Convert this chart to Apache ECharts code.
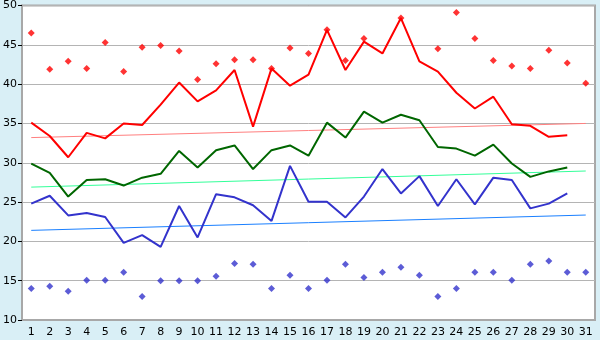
<!DOCTYPE html>
<html>
<head>
<meta charset="utf-8">
<script src="https://cdn.jsdelivr.net/npm/echarts@6/dist/echarts.min.js"></script>
<style>
  html, body { margin: 0; padding: 0; background: #d9eff6; }
  #chart { width: 600px; height: 340px; }
</style>
</head>
<body>
<div id="chart"></div>
<script>
const days = Array.from({ length: 31 }, (_, i) => String(i + 1));

// daily series
const redLine = [35.1, 33.4, 30.7, 33.8, 33.1, 35.0, 34.8, 37.4, 40.2, 37.8,
  39.2, 41.8, 34.6, 42.0, 39.8, 41.2, 46.9, 41.8, 45.4, 43.9,
  48.4, 42.9, 41.6, 38.9, 36.9, 38.4, 34.9, 34.7, 33.3, 33.5, null];
const redMax = [46.5, 41.9, 42.9, 42.0, 45.3, 41.6, 44.7, 44.9, 44.2, 40.6,
  42.6, 43.1, 43.1, 42.0, 44.6, 43.9, 46.9, 43.0, 45.8, null,
  48.4, null, 44.5, 49.1, 45.8, 43.0, 42.3, 42.0, 44.3, 42.7, 40.1];
const greenLine = [29.9, 28.7, 25.7, 27.8, 27.9, 27.1, 28.1, 28.6, 31.5, 29.4,
  31.6, 32.2, 29.2, 31.6, 32.2, 30.9, 35.1, 33.2, 36.5, 35.1,
  36.1, 35.4, 32.0, 31.8, 30.9, 32.3, 29.9, 28.2, 28.9, 29.4, null];
const blueLine = [24.8, 25.8, 23.3, 23.6, 23.1, 19.8, 20.8, 19.3, 24.5, 20.5,
  26.0, 25.6, 24.6, 22.6, 29.6, 25.05, 25.05, 23.05, 25.7, 29.2,
  26.1, 28.3, 24.5, 27.9, 24.7, 28.1, 27.8, 24.2, 24.8, 26.1, null];
const blueMin = [14.0, 14.3, 13.65, 15.05, 15.05, 16.07, 13.0, 15.0, 15.0, 15.0,
  15.55, 17.2, 17.1, 14.0, 15.7, 14.0, 15.05, 17.1, 15.4, 16.07,
  16.7, 15.7, 13.0, 14.0, 16.07, 16.07, 15.05, 17.1, 17.5, 16.07, 16.07];

// trend lines: value at day 1 and day 31
const redTrend = [33.2, 35.0];
const greenTrend = [26.9, 28.95];
const blueTrend = [21.4, 23.35];

const yTicks = { min: 10, max: 50, step: 5 };

const font = 'DejaVu Sans, Verdana, sans-serif';

function trend(ends) {
  return [[0, ends[0]], [days.length - 1, ends[1]]];
}

function line(name, data, color, width) {
  return {
    name, type: 'line', data, showSymbol: false, animation: false,
    lineStyle: { color, width }, itemStyle: { color }, z: 3
  };
}

function dots(name, data, color) {
  return {
    name, type: 'scatter', data, symbol: 'diamond', symbolSize: 7,
    itemStyle: { color }, animation: false, z: 4
  };
}

const chart = echarts.init(document.getElementById('chart'));
chart.setOption({
  backgroundColor: '#d9eff6',
  grid: {
    left: 20, right: 5, top: 5, bottom: 20,
    show: true, backgroundColor: '#ffffff', borderColor: '#a8a8a8', borderWidth: 2
  },
  xAxis: {
    type: 'category',
    data: days,
    boundaryGap: true,
    axisLine: { lineStyle: { color: '#a8a8a8', width: 2 } },
    axisTick: { alignWithLabel: true, length: 5, lineStyle: { color: '#000000' } },
    axisLabel: { color: '#000', fontFamily: font, fontSize: 11, margin: 7, interval: 0 },
    splitLine: { show: false }
  },
  yAxis: {
    type: 'value',
    min: yTicks.min, max: yTicks.max, interval: yTicks.step,
    axisLine: { show: true, lineStyle: { color: '#a8a8a8', width: 2 } },
    axisTick: { show: true, length: 4, lineStyle: { color: '#000000' } },
    axisLabel: { color: '#000', fontFamily: font, fontSize: 11, margin: 5 },
    splitLine: { lineStyle: { color: '#b4b4b4', width: 1 } }
  },
  series: [
    line('redTrend', trend(redTrend), '#ff8080', 1),
    line('greenTrend', trend(greenTrend), '#33ff99', 1),
    line('blueTrend', trend(blueTrend), '#1a80ff', 1),
    line('red', redLine, '#ff0000', 2),
    line('green', greenLine, '#006600', 2),
    line('blue', blueLine, '#3333cc', 2),
    dots('max', redMax, '#ff0000'),
    dots('min', blueMin, '#3333cc')
  ]
});
</script>
</body>
</html>
